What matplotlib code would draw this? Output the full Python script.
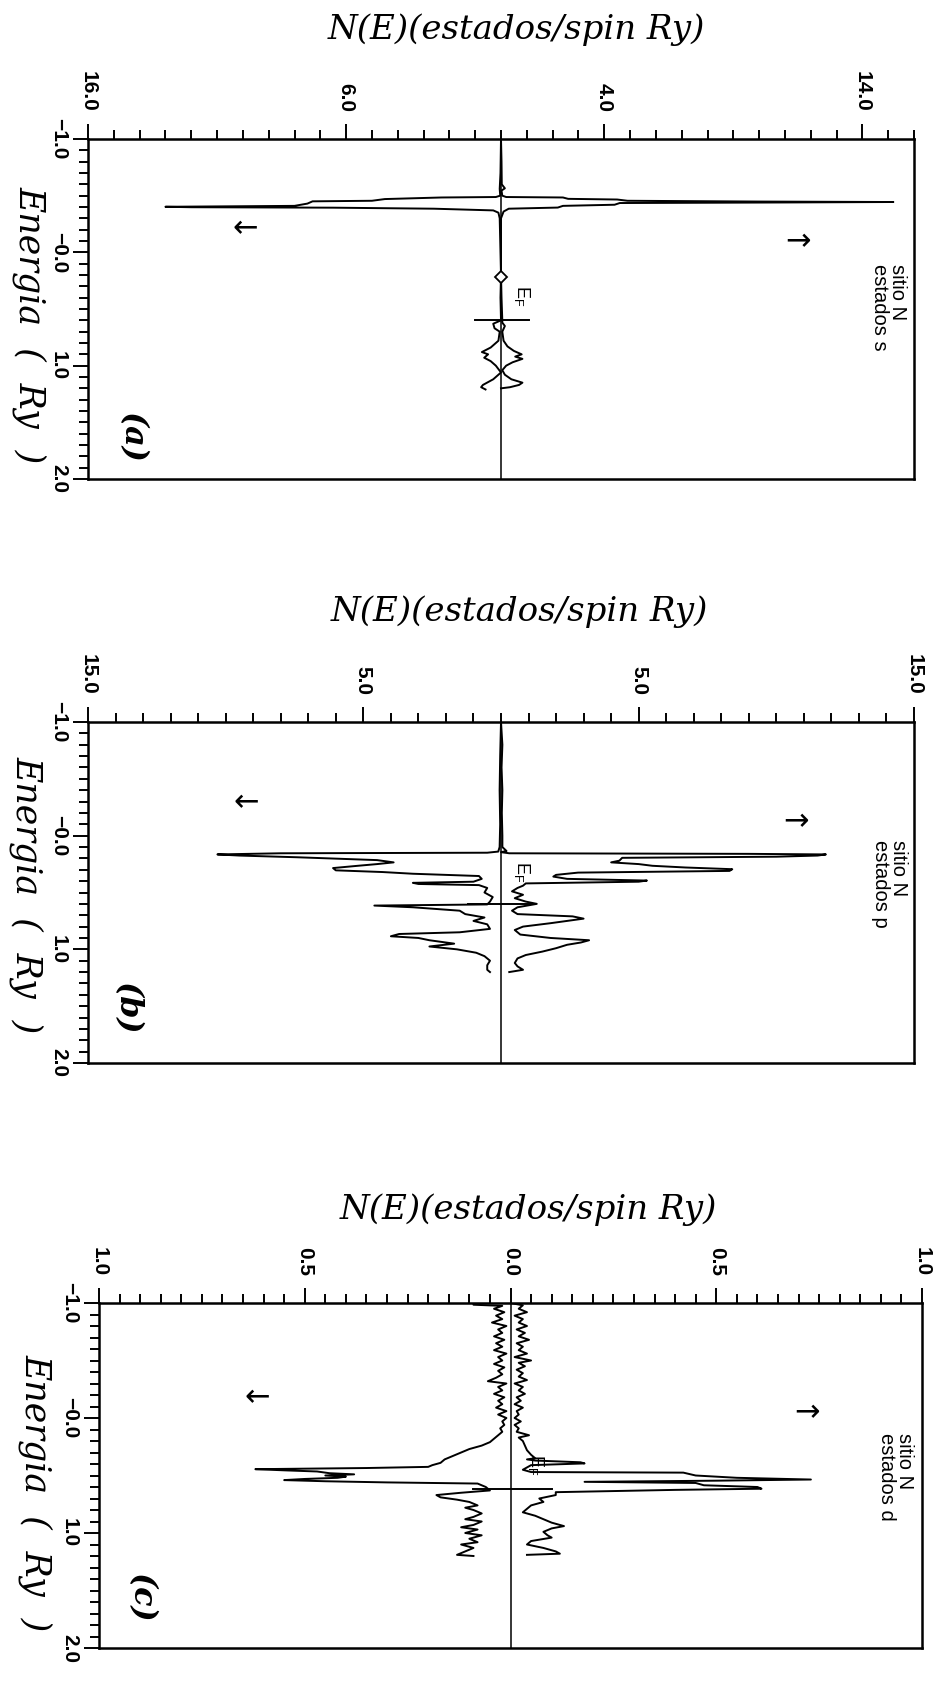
import matplotlib
matplotlib.use('Agg')
import matplotlib.pyplot as plt
from matplotlib.ticker import MultipleLocator, FixedLocator

# ---------------- data ----------------
energy_ticks = [-1.0, 0.0, 1.0, 2.0]
energy_ticklabels = ['\u22121.0', '\u22120.0', '1.0', '2.0']

a_xticks = [-16, -6, 4, 14]
a_xticklabels = ['16.0', '6.0', '4.0', '14.0']
b_xticks = [-15, -5, 5, 15]
b_xticklabels = ['15.0', '5.0', '5.0', '15.0']
c_xticks = [-1.0, -0.5, 0.0, 0.5, 1.0]
c_xticklabels = ['1.0', '0.5', '0.0', '0.5', '1.0']

# panel (a): N site, s states
a_up_E = [-1.0, -0.8, -0.6, -0.565, -0.545, -0.50, -0.488, -0.484, -0.472, -0.466, -0.455,
          -0.448, -0.444, -0.440, -0.435, -0.42, -0.41, -0.395, -0.385, -0.36, -0.30, 0.0,
          0.20, 0.40, 0.60, 0.62, 0.65, 0.70, 0.78, 0.83, 0.87, 0.90, 0.92, 0.94, 0.97,
          1.00, 1.04, 1.08, 1.12, 1.15, 1.17, 1.19, 1.20]
a_up_N = [0.0, 0.02, 0.03, 0.15, 0.02, 0.05, 0.2, 2.4, 2.6, 4.5, 4.9,
          10.0, 15.2, 11.0, 4.6, 4.4, 2.4, 2.2, 0.3, 0.1, 0.0, 0.0,
          0.0, 0.02, 0.05, 0.05, 0.15, 0.05, 0.1, 0.25, 0.5, 0.8, 0.55, 0.83, 0.45,
          0.2, 0.05, 0.15, 0.4, 0.83, 0.7, 0.35, 0.0]
a_dn_E = [-1.0, -0.7, -0.56, -0.50, -0.488, -0.484, -0.47, -0.455, -0.45, -0.43, -0.41,
          -0.402, -0.398, -0.394, -0.385, -0.37, -0.35, -0.30, 0.0, 0.20, 0.40, 0.60,
          0.63, 0.67, 0.70, 0.78, 0.84, 0.88, 0.90, 0.93, 0.96, 1.00, 1.06, 1.12, 1.17,
          1.19, 1.21]
a_dn_N = [0.0, 0.02, 0.05, 0.03, 0.2, 2.3, 4.5, 5.0, 7.3, 7.5, 8.0,
          13.0, 12.0, 6.5, 2.6, 0.3, 0.1, 0.05, 0.02, 0.0, 0.02, 0.0,
          0.3, 0.25, 0.05, 0.1, 0.4, 0.74, 0.5, 0.65, 0.4, 0.2, 0.0, 0.3, 0.7,
          0.77, 0.6]
a_marker_E = [0.22]
a_marker_N = [0.0]
a_fermi = 0.60
a_fermi_N = [-1.0, 1.07]

# panel (b): N site, p states
b_up_E = [-1.0, -0.8, -0.6, -0.4, -0.2, 0.0, 0.10, 0.135, 0.145, 0.155, 0.16, 0.165,
          0.175, 0.185, 0.195, 0.22, 0.235, 0.25, 0.265, 0.28, 0.295, 0.31, 0.325,
          0.345, 0.36, 0.38, 0.395, 0.405, 0.42, 0.44, 0.46, 0.49, 0.52, 0.55, 0.58,
          0.60, 0.63, 0.66, 0.69, 0.71, 0.73, 0.75, 0.77, 0.80, 0.83, 0.87, 0.90,
          0.92, 0.94, 0.96, 0.99, 1.02, 1.05, 1.08, 1.12, 1.15, 1.18, 1.20]
b_up_N = [0.0, 0.05, 0.02, 0.05, 0.03, 0.05, 0.05, 0.2, 0.0, 0.3, 9.0, 11.8,
          11.5, 10.0, 4.4, 4.3, 4.0, 5.0, 5.5, 6.7, 8.4, 8.3, 2.8,
          2.0, 1.9, 2.4, 5.3, 5.0, 0.9, 0.8, 0.6, 0.4, 0.8, 0.5, 0.9,
          1.3, 0.6, 0.4, 0.6, 2.6, 3.0, 2.4, 1.8, 0.8, 0.5, 0.7, 1.8,
          3.2, 2.9, 2.4, 2.0, 1.5, 0.9, 0.6, 0.5, 0.6, 0.8, 0.3]
b_dn_E = [-1.0, -0.7, -0.4, -0.1, 0.10, 0.14, 0.15, 0.155, 0.165, 0.175, 0.19, 0.215,
          0.235, 0.25, 0.265, 0.285, 0.305, 0.32, 0.335, 0.355, 0.38, 0.405, 0.415,
          0.425, 0.435, 0.46, 0.50, 0.54, 0.58, 0.605, 0.615, 0.63, 0.66, 0.69, 0.72,
          0.75, 0.78, 0.82, 0.85, 0.865, 0.885, 0.90, 0.92, 0.95, 0.975, 1.00, 1.03,
          1.06, 1.10, 1.14, 1.18, 1.20]
b_dn_N = [0.0, 0.03, 0.05, 0.03, 0.05, 0.1, 0.5, 8.0, 10.3, 9.5, 7.4, 4.5,
          3.9, 4.5, 5.2, 6.1, 6.0, 4.3, 3.2, 0.8, 0.7, 1.0, 3.2,
          3.0, 0.8, 0.5, 0.6, 0.3, 0.4, 0.5, 4.6, 3.2, 1.5, 1.3, 0.6,
          1.0, 0.5, 0.4, 1.5, 3.7, 4.0, 3.0, 2.6, 1.7, 2.6, 1.6, 0.9,
          0.6, 0.4, 0.5, 0.5, 0.4]
b_fermi = 0.605
b_fermi_N = [-1.2, 1.2]

# panel (c): N site, d states
c_up_E = [-1.0, -0.98, -0.95, -0.92, -0.89, -0.86, -0.83, -0.80, -0.77, -0.74, -0.71,
          -0.68, -0.65, -0.62, -0.59, -0.56, -0.53, -0.50, -0.48, -0.45, -0.42, -0.39,
          -0.36, -0.33, -0.30, -0.27, -0.24, -0.21, -0.18, -0.15, -0.12, -0.09, -0.06,
          -0.03, 0.0, 0.03, 0.06, 0.09, 0.12, 0.15, 0.17, 0.20, 0.24, 0.28, 0.32, 0.35,
          0.36, 0.37, 0.385, 0.395, 0.41, 0.43, 0.45, 0.47, 0.475, 0.50, 0.52, 0.535,
          0.545, 0.555, 0.565, 0.585, 0.60, 0.615, 0.625, 0.645, 0.67, 0.70, 0.73,
          0.76, 0.79, 0.82, 0.85, 0.88, 0.91, 0.94, 0.96, 0.99, 1.02, 1.04, 1.07, 1.10,
          1.13, 1.16, 1.18, 1.19]
c_up_N = [0.0, 0.03, 0.02, 0.04, 0.01, 0.03, 0.02, 0.04, 0.015, 0.035, 0.02,
          0.045, 0.015, 0.03, 0.02, 0.04, 0.01, 0.05, 0.02, 0.035, 0.015, 0.03,
          0.02, 0.04, 0.01, 0.03, 0.02, 0.035, 0.015, 0.025, 0.01, 0.03, 0.015,
          0.02, 0.01, 0.025, 0.01, 0.02, 0.015, 0.045, 0.02, 0.03, 0.035, 0.04, 0.05, 0.06,
          0.04, 0.06, 0.17, 0.18, 0.05, 0.04, 0.03, 0.05, 0.42, 0.45, 0.55, 0.73,
          0.50, 0.18, 0.45, 0.47, 0.60, 0.61, 0.40, 0.11, 0.11, 0.07, 0.08,
          0.05, 0.04, 0.03, 0.06, 0.08, 0.10, 0.13, 0.10, 0.08, 0.09, 0.10, 0.05, 0.04,
          0.08, 0.11, 0.12, 0.04]
c_dn_E = [-1.0, -0.985, -0.975, -0.95, -0.92, -0.89, -0.86, -0.83, -0.80, -0.77, -0.74,
          -0.71, -0.68, -0.65, -0.62, -0.59, -0.56, -0.53, -0.50, -0.47, -0.44, -0.41,
          -0.38, -0.35, -0.32, -0.30, -0.27, -0.24, -0.21, -0.18, -0.15, -0.12, -0.09,
          -0.06, -0.03, 0.0, 0.03, 0.06, 0.09, 0.12, 0.15, 0.18, 0.21, 0.24, 0.27, 0.30,
          0.33, 0.36, 0.39, 0.41, 0.425, 0.435, 0.445, 0.455, 0.465, 0.48, 0.49, 0.50,
          0.51, 0.52, 0.53, 0.54, 0.55, 0.56, 0.57, 0.60, 0.63, 0.65, 0.67, 0.69, 0.71,
          0.73, 0.76, 0.78, 0.80, 0.83, 0.86, 0.88, 0.90, 0.93, 0.95, 0.97, 1.00, 1.02,
          1.05, 1.08, 1.10, 1.13, 1.16, 1.19, 1.20]
c_dn_N = [0.09, 0.09, 0.02, 0.04, 0.015, 0.035, 0.02, 0.045, 0.01, 0.03, 0.02,
          0.04, 0.015, 0.035, 0.02, 0.04, 0.01, 0.03, 0.02, 0.04, 0.015, 0.03,
          0.02, 0.035, 0.055, 0.01, 0.03, 0.02, 0.04, 0.015, 0.03, 0.02, 0.035,
          0.01, 0.03, 0.01, 0.02, 0.015, 0.025, 0.02, 0.03, 0.04, 0.05, 0.07, 0.10, 0.12,
          0.14, 0.16, 0.17, 0.19, 0.20, 0.35, 0.62, 0.55, 0.47, 0.44, 0.38, 0.45,
          0.40, 0.42, 0.50, 0.55, 0.45, 0.30, 0.08, 0.06, 0.05, 0.12, 0.18, 0.17, 0.13,
          0.10, 0.08, 0.11, 0.09, 0.07, 0.09, 0.11, 0.07, 0.09, 0.12, 0.08, 0.11, 0.07,
          0.10, 0.08, 0.12, 0.09, 0.11, 0.13, 0.09]
c_fermi = 0.617
c_fermi_N = [-0.09, 0.10]

# ---------------- figure ----------------
W, H = 936, 1689
fig = plt.figure(figsize=(W / 100, H / 100), dpi=100)
fig.patch.set_facecolor('white')

SANS = ['Liberation Sans', 'DejaVu Sans']
SERIF = ['DejaVu Serif']
LW = 1.4


def px(x, y):
    return x / W, 1 - y / H


def setup(rect, xlim, xticks, xlabels, xminor):
    l, t, r, b = rect
    ax = fig.add_axes([l / W, 1 - b / H, (r - l) / W, (b - t) / H])
    ax.set_xlim(*xlim)
    ax.set_ylim(2.0, -1.0)
    ax.xaxis.set_major_locator(FixedLocator(xticks))
    ax.xaxis.set_minor_locator(MultipleLocator(xminor))
    ax.set_xticklabels(xlabels)
    ax.yaxis.set_major_locator(FixedLocator(energy_ticks))
    ax.yaxis.set_minor_locator(MultipleLocator(0.1))
    ax.set_yticklabels(energy_ticklabels)
    ax.xaxis.tick_top()
    ax.tick_params(axis='x', which='both', direction='out', top=True, bottom=False,
                   labeltop=True, labelbottom=False, width=1.4)
    ax.tick_params(axis='y', which='both', direction='out', left=True, right=False, width=1.4)
    ax.tick_params(which='major', length=11)
    ax.tick_params(which='minor', length=6.5)
    ax.tick_params(axis='x', which='major', pad=8.5)
    ax.tick_params(axis='y', which='major', pad=3.5)
    for lab in ax.get_xticklabels():
        lab.set_rotation(-90)
        lab.set_ha('center')
        lab.set_va('bottom')
        lab.set_fontfamily(SANS)
        lab.set_fontsize(15)
        lab.set_fontweight('bold')
    for lab in ax.get_yticklabels():
        lab.set_rotation(-90)
        lab.set_ha('right')
        lab.set_va('center')
        lab.set_fontfamily(SANS)
        lab.set_fontsize(15)
        lab.set_fontweight('bold')
    for s in ax.spines.values():
        s.set_linewidth(1.8)
    ax.axvline(0, color='black', lw=1.1)
    return ax


def decorate(ax, title_xy, elabel_xy, tag, tag_xy, arrL, arrR, site_text, site_xy,
             ef_xy):
    fig.text(*px(*title_xy), 'N(E)(estados/spin Ry)', family=SERIF, style='italic',
             fontsize=24.5, ha='center', va='center')
    fig.text(*px(*elabel_xy), 'Energia  (  Ry  )', family=SERIF, style='italic',
             fontsize=25, ha='center', va='center', rotation=-90)
    ax.text(*tag_xy, tag, family=SERIF, style='italic', fontsize=23, fontweight='bold',
            rotation=-90, ha='center', va='center')
    ax.text(*arrL, '\u2190', family=['DejaVu Sans'], fontsize=22, ha='center', va='center')
    ax.text(*arrR, '\u2192', family=['DejaVu Sans'], fontsize=22, ha='center', va='center')
    ax.text(*site_xy, site_text, family=SANS, fontsize=14.5, rotation=-90, ha='center',
            va='top', multialignment='left', linespacing=0.95)
    ax.text(*ef_xy, r'E$_\mathregular{F}$', family=SANS, fontsize=13, rotation=-90,
            ha='center', va='center')


# panel (a)
ax_a = setup((88, 139, 914, 479), (-16, 16), a_xticks, a_xticklabels, 1)
ax_a.plot(a_up_N, a_up_E, color='black', lw=LW)
ax_a.plot([-v for v in a_dn_N], a_dn_E, color='black', lw=LW)
ax_a.plot(a_marker_N, a_marker_E, marker='D', ms=6, mfc='white', mec='black', mew=1.3,
          ls='none')
ax_a.plot(a_fermi_N, [a_fermi, a_fermi], color='black', lw=LW)
decorate(ax_a, (516, 30), (30, 325), '(a)', (-14.3, 1.63), (-9.9, -0.21), (11.5, -0.095),
         'sitio N\nestados s', (15.0, 0.10), (0.8, 0.385))

# panel (b)
ax_b = setup((88, 722, 914, 1063), (-15, 15), b_xticks, b_xticklabels, 1)
ax_b.plot(b_up_N, b_up_E, color='black', lw=LW)
ax_b.plot([-v for v in b_dn_N], b_dn_E, color='black', lw=LW)
ax_b.plot(b_fermi_N, [b_fermi, b_fermi], color='black', lw=LW)
decorate(ax_b, (519, 612), (27, 895), '(b)', (-13.6, 1.52), (-9.26, -0.29), (10.7, -0.12),
         'sitio N\nestados p', (14.1, 0.04), (0.76, 0.32))

# panel (c)
ax_c = setup((99, 1303, 922, 1648), (-1, 1), c_xticks, c_xticklabels, 0.05)
ax_c.plot(c_up_N, c_up_E, color='black', lw=LW)
ax_c.plot([-v for v in c_dn_N], c_dn_E, color='black', lw=LW)
ax_c.plot(c_fermi_N, [c_fermi, c_fermi], color='black', lw=LW)
decorate(ax_c, (528, 1210), (36, 1493), '(c)', (-0.90, 1.56), (-0.615, -0.18), (0.72, -0.05),
         'sitio N\nestados d', (0.935, 0.13), (0.063, 0.41))

fig.savefig('out.png', dpi=100, facecolor='white')
